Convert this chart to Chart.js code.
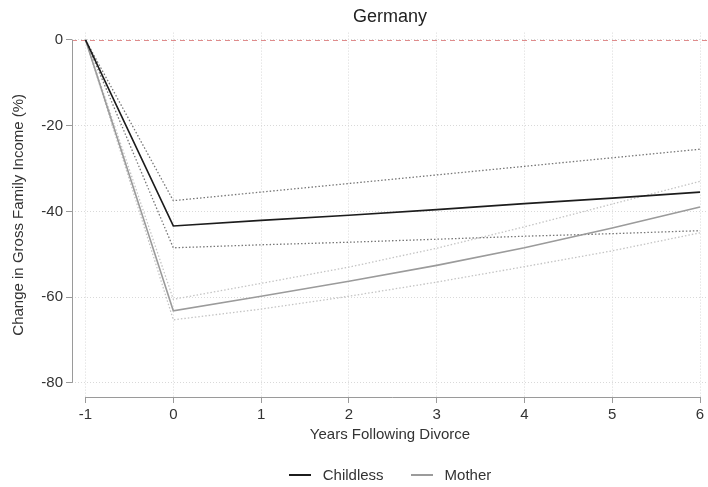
<!DOCTYPE html>
<html>
<head>
<meta charset="utf-8">
<title>Germany</title>
<script src="https://cdn.jsdelivr.net/npm/chart.js@4.4.1/dist/chart.umd.min.js"></script>
<style>
  html, body { margin: 0; padding: 0; background: #fff; }
  #wrap { position: relative; width: 708px; height: 487px; }
  #legend {
    position: absolute; left: 72px; right: 0; top: 466px;
    display: flex; justify-content: center; gap: 27px;
    font: 15px "Liberation Sans", Arial, sans-serif; line-height: 18px; color: #333;
  }
  #legend .item { display: flex; align-items: center; }
  #legend .swatch { width: 22px; height: 2px; margin-right: 12px; }
</style>
</head>
<body>
<div id="wrap">
  <canvas id="myChart" width="708" height="487"></canvas>
  <div id="legend"></div>
</div>
<script>
// years relative to divorce
const years = [-1, 0, 1, 2, 3, 4, 5, 6];

// change in gross family income (%)
const childless      = [0, -43.4, -42.1, -40.9, -39.6, -38.2, -36.9, -35.5];
const childlessUpper = [0, -37.5, -35.5, -33.5, -31.5, -29.5, -27.5, -25.5];
const childlessLower = [0, -48.5, -47.8, -47.2, -46.5, -45.8, -45.2, -44.5];
const mother         = [0, -63.2, -59.8, -56.3, -52.6, -48.5, -43.9, -39.0];
const motherUpper    = [0, -60.5, -56.8, -53.0, -48.6, -43.6, -38.3, -33.0];
const motherLower    = [0, -65.3, -62.8, -59.8, -56.5, -52.9, -49.2, -45.0];

const xTicks = [-1, 0, 1, 2, 3, 4, 5, 6];
const yTicks = [-80, -60, -40, -20, 0];
const refValue = 0;

Chart.defaults.font.family = '"Liberation Sans", Arial, sans-serif';
Chart.defaults.color = '#333';

const pts = (arr) => years.map((x, i) => ({ x: x, y: arr[i] }));

const line = (label, arr, color, width, dash, inLegend) => ({
    label: label,
    data: pts(arr),
    borderColor: color,
    backgroundColor: color,
    borderWidth: width,
    borderDash: dash,
    pointRadius: 0,
    tension: 0,
    fill: false,
    inLegend: inLegend
});

// axis lines that stop at the first/last tick, plus the dashed zero line
const axisLines = {
    id: 'axisLines',
    beforeDatasetsDraw(chart) {
        const { ctx, chartArea, scales: { x, y } } = chart;
        ctx.save();
        ctx.lineWidth = 1;
        ctx.strokeStyle = '#df8c8c';
        ctx.setLineDash([5, 4]);
        const y0 = Math.round(y.getPixelForValue(refValue)) + 0.5;
        ctx.beginPath();
        ctx.moveTo(chartArea.left, y0);
        ctx.lineTo(chartArea.right, y0);
        ctx.stroke();

        ctx.setLineDash([]);
        ctx.strokeStyle = '#9a9a9a';
        const xl = Math.round(chartArea.left) + 0.5;
        const yb = Math.round(chartArea.bottom) + 0.5;
        ctx.beginPath();
        ctx.moveTo(xl, y.getPixelForValue(yTicks[yTicks.length - 1]));
        ctx.lineTo(xl, y.getPixelForValue(yTicks[0]));
        ctx.moveTo(x.getPixelForValue(xTicks[0]), yb);
        ctx.lineTo(x.getPixelForValue(xTicks[xTicks.length - 1]), yb);
        ctx.stroke();
        ctx.restore();
    }
};

const htmlLegend = {
    id: 'htmlLegend',
    afterUpdate(chart) {
        const box = document.getElementById('legend');
        box.innerHTML = '';
        chart.data.datasets.filter(ds => ds.inLegend).forEach(ds => {
            const item = document.createElement('div');
            item.className = 'item';
            const sw = document.createElement('span');
            sw.className = 'swatch';
            sw.style.background = ds.borderColor;
            const txt = document.createElement('span');
            txt.textContent = ds.label;
            item.appendChild(sw);
            item.appendChild(txt);
            box.appendChild(item);
        });
    }
};

new Chart(document.getElementById('myChart'), {
    type: 'line',
    data: {
        datasets: [
            line('Childless', childless, '#1c1c1c', 1.6, [], true),
            line('Mother', mother, '#9b9b9b', 1.6, [], true),
            line('Childless upper', childlessUpper, '#777', 1.3, [1.5, 2], false),
            line('Childless lower', childlessLower, '#777', 1.3, [1.5, 2], false),
            line('Mother upper', motherUpper, '#c4c4c4', 1.3, [1.5, 2], false),
            line('Mother lower', motherLower, '#c4c4c4', 1.3, [1.5, 2], false)
        ]
    },
    options: {
        responsive: false,
        animation: false,
        devicePixelRatio: 1,
        layout: { padding: { top: 0, left: 0, right: 0, bottom: 40 } },
        plugins: {
            legend: { display: false },
            tooltip: { enabled: false },
            title: {
                display: true,
                text: 'Germany',
                fullSize: false,
                color: '#222',
                font: { size: 18, weight: 'normal' },
                padding: { top: 6, bottom: 5 }
            }
        },
        scales: {
            x: {
                type: 'linear',
                min: -1.154,
                max: 6.091,
                afterBuildTicks: (scale) => { scale.ticks = xTicks.map(v => ({ value: v })); },
                afterFit: (scale) => { scale.height = 50; },
                ticks: { font: { size: 15 }, padding: 3, maxRotation: 0, callback: (v) => String(v) },
                grid: { color: '#d9d9d9', tickColor: '#9a9a9a', tickLength: 6, tickBorderDash: [] },
                border: { display: false, dash: [1, 2] },
                title: {
                    display: true,
                    text: 'Years Following Divorce',
                    font: { size: 15 },
                    padding: { top: 0, bottom: 3 }
                }
            },
            y: {
                min: -83.3,
                max: 1.7,
                afterBuildTicks: (scale) => { scale.ticks = yTicks.map(v => ({ value: v })); },
                afterFit: (scale) => { scale.width = 72; },
                ticks: { font: { size: 15 }, padding: 3, callback: (v) => String(v) },
                grid: { color: '#d9d9d9', tickColor: '#9a9a9a', tickLength: 6, tickBorderDash: [] },
                border: { display: false, dash: [1, 2] },
                title: {
                    display: true,
                    text: 'Change in Gross Family Income (%)',
                    font: { size: 15 },
                    padding: { top: 10, bottom: 0 }
                }
            }
        }
    },
    plugins: [axisLines, htmlLegend]
});
</script>
</body>
</html>
